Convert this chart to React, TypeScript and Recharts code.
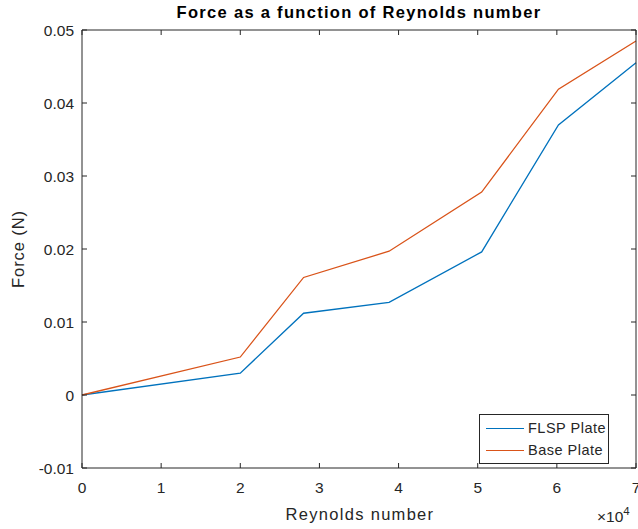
import { LineChart, Line, XAxis, YAxis, Legend } from 'recharts';

const reynolds = [0, 20000, 28000, 38800, 50500, 60200, 70000];
const flspForce = [0, 0.003, 0.0112, 0.0127, 0.0196, 0.037, 0.0455];
const baseForce = [0, 0.0052, 0.0161, 0.0197, 0.0278, 0.0419, 0.0485];

const xTicks = [0, 10000, 20000, 30000, 40000, 50000, 60000, 70000];
const yTicks = [-0.01, 0, 0.01, 0.02, 0.03, 0.04, 0.05];

// blue one sits on the top/right (box) axes so those get drawn; both pairs share one domain
const SERIES = [
  { key: 'flsp', label: 'FLSP Plate', color: '#0072BD', xId: 'top', yId: 'right' },
  { key: 'base', label: 'Base Plate', color: '#D95319', xId: 'bottom', yId: 'left' },
];

const data = reynolds.map((re, i) => ({ re, flsp: flspForce[i], base: baseForce[i] }));

const FONT = '"Liberation Sans", Arial, Helvetica, sans-serif';
const INK = '#262626';
const TICK = 5;

const fmtY = (v: number) => (v === 0 ? '0' : String(Number(v.toFixed(2))));

const BottomTick = ({ x, y, payload }: any) => (
  <g>
    <line x1={x} x2={x} y1={y} y2={y - TICK} stroke={INK} />
    <text x={x} y={y + 25} textAnchor="middle" fill={INK} fontSize={15.5} fontFamily={FONT}>
      {payload.value / 10000}
    </text>
  </g>
);

const LeftTick = ({ x, y, payload }: any) => (
  <g>
    <line x1={x} x2={x + TICK} y1={y} y2={y} stroke={INK} />
    <text x={x - 8} y={y} dy={5.5} textAnchor="end" fill={INK} fontSize={15.5} fontFamily={FONT}>
      {fmtY(payload.value)}
    </text>
  </g>
);

const TopTick = ({ x, y }: any) => <line x1={x} x2={x} y1={y} y2={y + TICK} stroke={INK} />;
const RightTick = ({ x, y }: any) => <line x1={x} x2={x - TICK} y1={y} y2={y} stroke={INK} />;

function LegendBox() {
  return (
    <div
      style={{
        width: 128,
        height: 46,
        border: `1px solid ${INK}`,
        background: '#fff',
        fontFamily: FONT,
        fontSize: 14.5,
        letterSpacing: 0.5,
        color: INK,
        paddingTop: 2,
      }}
    >
      {SERIES.map((s) => (
        <div key={s.key} style={{ display: 'flex', alignItems: 'center', height: 22 }}>
          <span style={{ width: 38, height: 0, borderTop: `1.3px solid ${s.color}`, marginLeft: 6, marginRight: 4 }} />
          <span>{s.label}</span>
        </div>
      ))}
    </div>
  );
}

export default function App() {
  return (
    <div style={{ position: 'fixed', left: 0, top: 0, width: 638, height: 529, overflow: 'hidden', background: '#fff', fontFamily: FONT }}>
      <div
        style={{
          position: 'absolute',
          left: 82,
          width: 554,
          top: 3,
          textAlign: 'center',
          fontWeight: 'bold',
          fontSize: 16.5,
          letterSpacing: 1.3,
          color: '#000',
          whiteSpace: 'nowrap',
        }}
      >
        Force as a function of Reynolds number
      </div>
      <div style={{ position: 'absolute', left: 8, top: 8 }}>
        <LineChart width={630} height={521} data={data} margin={{ top: 21, right: 1, left: 0, bottom: 0 }}>
          <XAxis
            xAxisId="bottom"
            dataKey="re"
            type="number"
            domain={[0, 70000]}
            ticks={xTicks}
            interval={0}
            height={61}
            stroke={INK}
            tickSize={0}
            tickMargin={0}
            tickLine={false}
            tick={BottomTick}
            label={{
              content: () => (
                <g fill={INK} fontFamily={FONT}>
                  <text x={352} y={512} textAnchor="middle" fontSize={16.5} letterSpacing={1.3}>
                    Reynolds number
                  </text>
                  <text x={589} y={514} fontSize={15.5}>
                    ×10<tspan dy={-7} fontSize={11.5}>4</tspan>
                  </text>
                </g>
              ),
            }}
          />
          <XAxis
            xAxisId="top"
            orientation="top"
            dataKey="re"
            type="number"
            domain={[0, 70000]}
            ticks={xTicks}
            interval={0}
            height={1}
            stroke={INK}
            tickSize={0}
            tickMargin={0}
            tickLine={false}
            tick={TopTick}
          />
          <YAxis
            yAxisId="left"
            type="number"
            domain={[-0.01, 0.05]}
            ticks={yTicks}
            interval={0}
            width={74}
            stroke={INK}
            tickSize={0}
            tickMargin={0}
            tickLine={false}
            tick={LeftTick}
            label={{
              content: () => (
                <text
                  x={10}
                  y={241}
                  transform="rotate(-90 10 241)"
                  textAnchor="middle"
                  dominantBaseline="central"
                  fill={INK}
                  fontFamily={FONT}
                  fontSize={16.5}
                  letterSpacing={0.9}
                >
                  Force (N)
                </text>
              ),
            }}
          />
          <YAxis
            yAxisId="right"
            orientation="right"
            type="number"
            domain={[-0.01, 0.05]}
            ticks={yTicks}
            interval={0}
            width={1}
            stroke={INK}
            tickSize={0}
            tickMargin={0}
            tickLine={false}
            tick={RightTick}
          />
          {SERIES.map((s) => (
            <Line
              key={s.key}
              xAxisId={s.xId}
              yAxisId={s.yId}
              dataKey={s.key}
              name={s.label}
              stroke={s.color}
              strokeWidth={1.3}
              dot={false}
              type="linear"
              isAnimationActive={false}
            />
          ))}
          <Legend
            layout="horizontal"
            verticalAlign="middle"
            align="center"
            wrapperStyle={{ left: 471, top: 406, width: 130, height: 48 }}
            content={() => <LegendBox />}
          />
        </LineChart>
      </div>
    </div>
  );
}
